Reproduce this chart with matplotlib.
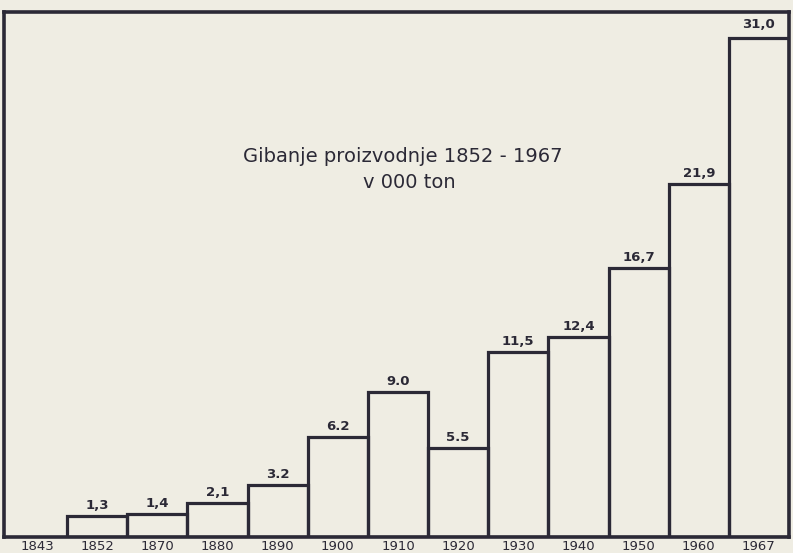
import matplotlib
matplotlib.use("Agg")
import matplotlib.pyplot as plt

years = ["1843", "1852", "1870", "1880", "1890", "1900", "1910",
         "1920", "1930", "1940", "1950", "1960", "1967"]
values = [1.3, 1.4, 2.1, 3.2, 6.2, 9.0, 5.5, 11.5, 12.4, 16.7, 21.9, 31.0]
value_labels = ["1,3", "1,4", "2,1", "3.2", "6.2", "9.0", "5.5",
                "11,5", "12,4", "16,7", "21,9", "31,0"]
title_line1 = "Gibanje proizvodnje 1852 - 1967"
title_line2 = "v 000 ton"

paper = "#efede3"
ink = "#2b2936"

fig = plt.figure(figsize=(7.93, 5.53), dpi=100, facecolor=paper)
W, H = 793, 553
left, right, top, bottom = 4, 789, 12, 537
ax = fig.add_axes([left / W, (H - bottom) / H, (right - left) / W, (bottom - top) / H])
ax.set_facecolor(paper)

ymax = 32.6
ax.set_xlim(-0.55, len(years) - 0.5)
ax.set_ylim(0, ymax)

xs = list(range(1, len(years)))
ax.bar(xs, values, width=1.0, fill=False, edgecolor=ink, linewidth=2.3,
       align="center", zorder=3)

for x, v, lab in zip(xs, values, value_labels):
    if x == len(years) - 1:
        y = v + (ymax - v) / 2
        va = "center"
    else:
        y = v + 0.25
        va = "bottom"
    ax.text(x, y, lab, ha="center", va=va, fontsize=9.5, color=ink,
            fontweight="bold", zorder=4)

for s in ax.spines.values():
    s.set_color(ink)
    s.set_linewidth(2.6)

ax.set_xticks(range(len(years)))
ax.set_xticklabels(years, fontsize=9.5, color=ink)
ax.tick_params(axis="x", length=0, pad=2)
ax.set_yticks([])

ax.text(0.508, 0.724, title_line1, transform=ax.transAxes, ha="center",
        va="center", fontsize=14, color=ink)
ax.text(0.516, 0.676, title_line2, transform=ax.transAxes, ha="center",
        va="center", fontsize=14, color=ink)

fig.savefig("out.png", dpi=100, facecolor=paper)
